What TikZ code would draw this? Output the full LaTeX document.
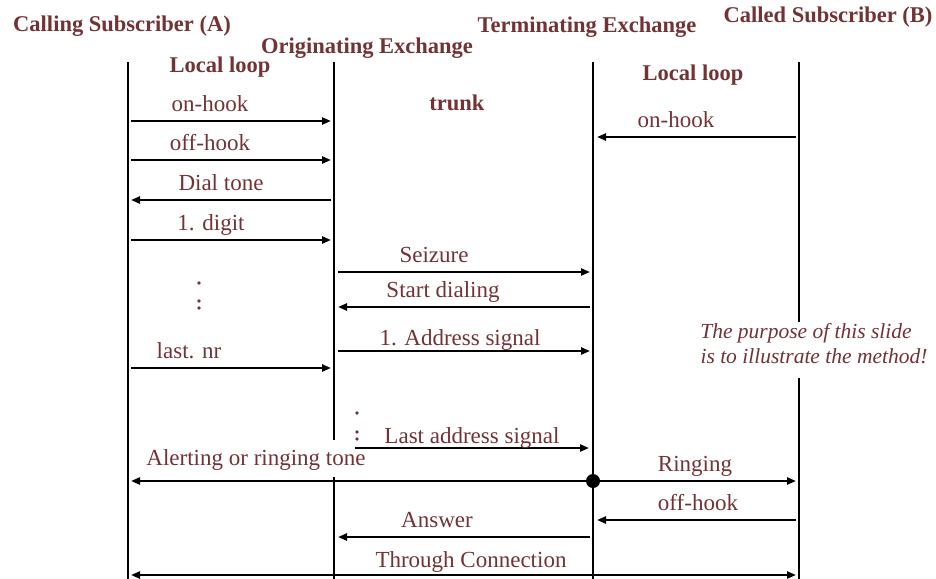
\documentclass[tikz,border=0pt]{standalone}
\usepackage{fontspec}
\setmainfont{Liberation Serif}
\usetikzlibrary{arrows.meta,calc}
\definecolor{maroon}{RGB}{115,50,52}
\begin{document}
\begin{tikzpicture}[x=1pt,y=-1pt,
  lifeline/.style={line width=2.8pt},
  msg/.style={line width=2.2pt,-{Triangle[length=9pt,width=7pt]}},
  twoway/.style={line width=2.2pt,{Triangle[length=9pt,width=7pt]}-{Triangle[length=9pt,width=7pt]}},
  lbl/.style={anchor=base,inner sep=0pt,text=maroon,font=\fontsize{23}{26}\selectfont},
  head/.style={anchor=base,inner sep=0pt,text=maroon,font=\bfseries\fontsize{22.5}{26}\selectfont},
  note/.style={anchor=base,inner sep=0pt,text=maroon,font=\itshape\fontsize{21.5}{24}\selectfont},
  ddot/.style={fill=maroon,circle,inner sep=0pt,minimum size=3.6pt}]
\useasboundingbox (0,0) rectangle (936,578);

% lifeline positions
\coordinate (A) at (128,0);
\coordinate (O) at (334,0);
\coordinate (T) at (593,0);
\coordinate (B) at (799,0);

% lifelines (gaps where labels sit on top of them)
\draw[lifeline] ($(A)+(0,62)$) -- ($(A)+(0,580)$);
\draw[lifeline] ($(O)+(0,62)$) -- ($(O)+(0,440)$);
\draw[lifeline] ($(O)+(0,477)$) -- ($(O)+(0,580)$);
\draw[lifeline] ($(T)+(0,62)$) -- ($(T)+(0,580)$);
\draw[lifeline] ($(B)+(0,62)$) -- ($(B)+(0,322)$);
\draw[lifeline] ($(B)+(0,378)$) -- ($(B)+(0,580)$);

% headings
\node[head] (hA) at (122,32) {Calling Subscriber (A)};
\node[head] (hO) at (367,53) {Originating Exchange};
\node[head] (hT) at (587,33) {Terminating Exchange};
\node[head] (hB) at (828,23) {Called Subscriber (B)};
\node[head] (loopA) at (220,72) {Local loop};
\node[head] (trunk) at (457,110) {trunk};
\node[head] (loopB) at (693,80) {Local loop};

% subscriber A <-> originating exchange
\draw[msg] ($(A)+(3,121)$) -- ($(O)+(-3,121)$);
\node[lbl] (m1) at (210,111) {on-hook};
\draw[msg] ($(A)+(3,160)$) -- ($(O)+(-3,160)$);
\node[lbl] (m2) at (210,150) {off-hook};
\draw[msg] ($(O)+(-3,200)$) -- ($(A)+(3,200)$);
\node[lbl] (m3) at (221,190) {Dial tone};
\draw[msg] ($(A)+(3,240)$) -- ($(O)+(-3,240)$);
\node[lbl] (m4) at (211,230) {1. digit};
\node[ddot] (d1) at (199,283) {};
\node[ddot] (d2) at (199,301) {};
\node[ddot] (d3) at (199,308) {};
\draw[msg] ($(A)+(3,368)$) -- ($(O)+(-3,368)$);
\node[lbl] (m5) at (189,358) {last. nr};

% subscriber B -> terminating exchange
\draw[msg] ($(B)+(-3,137)$) -- ($(T)+(4,137)$);
\node[lbl] (m6) at (676,127) {on-hook};

% trunk signalling
\draw[msg] ($(O)+(4,272)$) -- ($(T)+(-3,272)$);
\node[lbl] (m7) at (434,262) {Seizure};
\draw[msg] ($(T)+(-3,307)$) -- ($(O)+(4,307)$);
\node[lbl] (m8) at (443,297) {Start dialing};
\draw[msg] ($(O)+(4,351)$) -- ($(T)+(-3,351)$);
\node[lbl] (m9) at (460,345) {1. Address signal};
\node[ddot] (d4) at (357,413) {};
\node[ddot] (d5) at (357,432) {};
\node[ddot] (d6) at (357,439) {};
\draw[msg] ($(O)+(21,448)$) -- ($(T)+(-4,448)$);
\node[lbl] (m10) at (472,443) {Last address signal};

% alerting and ringing from the terminating exchange
\node[fill=black,circle,inner sep=0pt,minimum size=14pt] (ring) at ($(T)+(0,481)$) {};
\draw[msg] (ring) -- ($(A)+(3,481)$);
\node[lbl] (m11) at (256,465) {Alerting or ringing tone};
\draw[msg] (ring) -- ($(B)+(-3,481)$);
\node[lbl] (m12) at (695,471) {Ringing};

% answer
\draw[msg] ($(B)+(-3,520)$) -- ($(T)+(4,520)$);
\node[lbl] (m13) at (698,510) {off-hook};
\draw[msg] ($(T)+(-3,537)$) -- ($(O)+(4,537)$);
\node[lbl] (m14) at (437,527) {Answer};
\draw[twoway] ($(A)+(3,575)$) -- ($(B)+(-3,575)$);
\node[lbl] (m15) at (471,567) {Through Connection};

% remark
\node[note] (n1) at (806,338) {The purpose of this slide};
\node[note] (n2) at (814,363) {is to illustrate the method!};
\end{tikzpicture}
\end{document}
